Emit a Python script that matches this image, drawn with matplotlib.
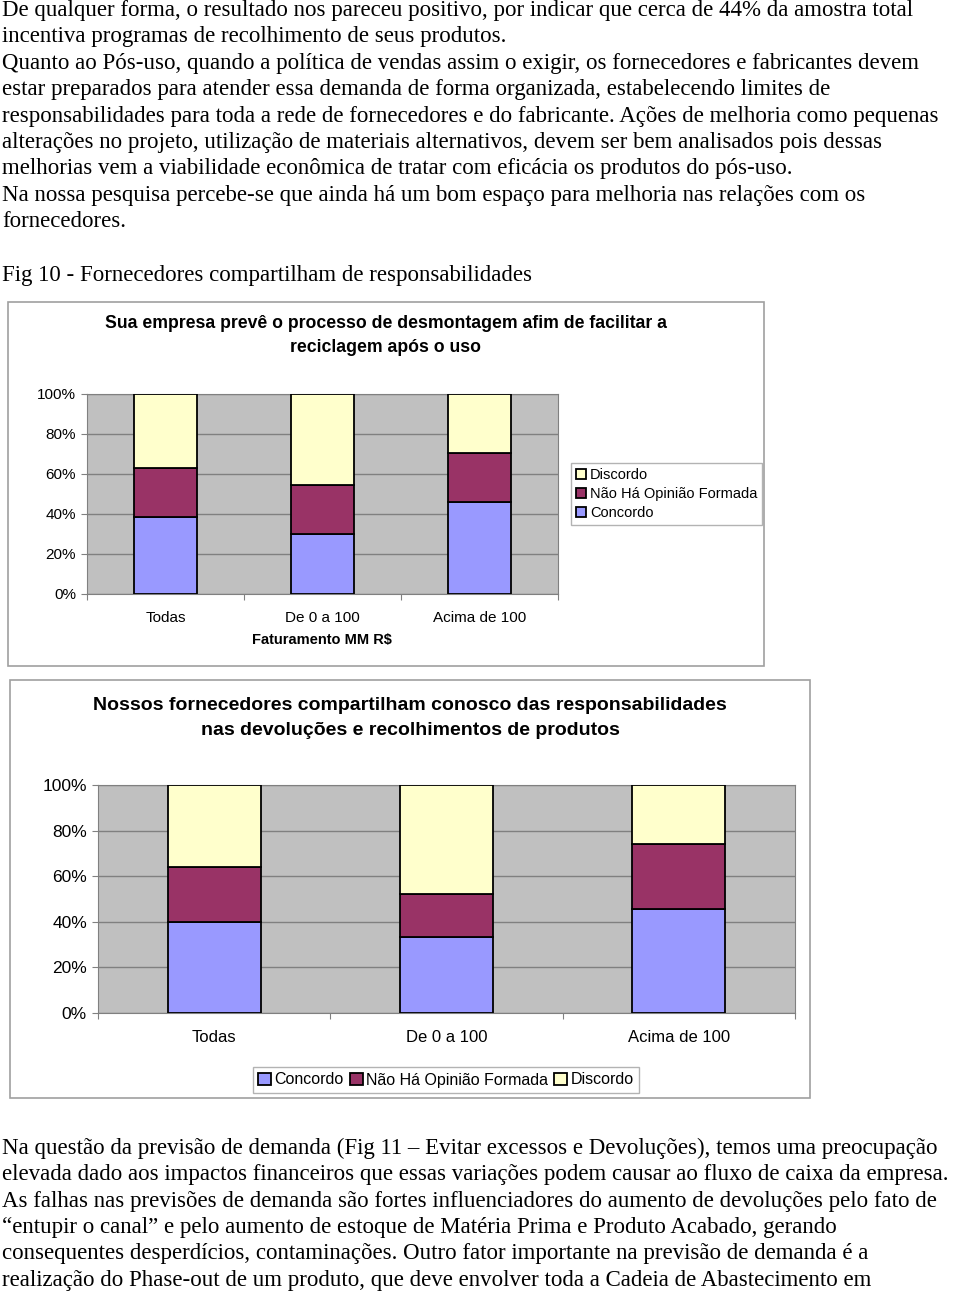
import numpy as np
import matplotlib.pyplot as plt
from matplotlib.patches import Rectangle
from matplotlib.ticker import PercentFormatter

W, H = 960, 1294

# data (percent)
categorias = ['Todas', 'De 0 a 100', 'Acima de 100']
series = ['Concordo', 'Não Há Opinião Formada', 'Discordo']
cores = ['#9999FF', '#993366', '#FFFFCC']

fig1_concordo = [38.5, 30.2, 46.0]
fig1_nao_ha = [24.5, 24.5, 24.3]
fig1_discordo = [37.0, 45.3, 29.7]

fig2_concordo = [40.0, 33.3, 45.8]
fig2_nao_ha = [24.0, 19.0, 28.2]
fig2_discordo = [36.0, 47.7, 26.0]

texto_topo = [
    "De qualquer forma, o resultado nos pareceu positivo, por indicar que cerca de 44% da amostra total",
    "incentiva programas de recolhimento de seus produtos.",
    "Quanto ao Pós-uso, quando a política de vendas assim o exigir, os fornecedores e fabricantes devem",
    "estar preparados para atender essa demanda de forma organizada, estabelecendo limites de",
    "responsabilidades para toda a rede de fornecedores e do fabricante. Ações de melhoria como pequenas",
    "alterações no projeto, utilização de materiais alternativos, devem ser bem analisados pois dessas",
    "melhorias vem a viabilidade econômica de tratar com eficácia os produtos do pós-uso.",
    "Na nossa pesquisa percebe-se que ainda há um bom espaço para melhoria nas relações com os",
    "fornecedores.",
]
texto_fim = [
    "Na questão da previsão de demanda (Fig 11 \u2013 Evitar excessos e Devoluções), temos uma preocupação",
    "elevada dado aos impactos financeiros que essas variações podem causar ao fluxo de caixa da empresa.",
    "As falhas nas previsões de demanda são fortes influenciadores do aumento de devoluções pelo fato de",
    "\u201centupir o canal\u201d e pelo aumento de estoque de Matéria Prima e Produto Acabado, gerando",
    "consequentes desperdícios, contaminações. Outro fator importante na previsão de demanda é a",
    "realização do Phase-out de um produto, que deve envolver toda a Cadeia de Abastecimento em",
]

plt.rcParams['font.family'] = ['Liberation Sans', 'DejaVu Sans']
fig = plt.figure(figsize=(W / 100, H / 100), dpi=100)


def fx(x):
    return x / W


def fy(y):
    return 1 - y / H


def px_axes(x0, y0, x1, y1):
    return fig.add_axes([fx(x0), fy(y1), (x1 - x0) / W, (y1 - y0) / H])


def texto(x, y, s, **kw):
    fig.text(fx(x), fy(y), s, va='center', **kw)


def caixa(x0, y0, x1, y1):
    fig.patches.append(Rectangle((fx(x0), fy(y1)), (x1 - x0) / W, (y1 - y0) / H,
                                 transform=fig.transFigure, fill=False,
                                 edgecolor='#A0A0A0', lw=1.2))


def grafico(ax, valores, fs, fs_y):
    x = np.arange(len(categorias))
    base = np.zeros(len(categorias))
    barras = []
    for nome, vals, cor in zip(series, valores, cores):
        b = ax.bar(x, vals, 0.4, bottom=base, color=cor, edgecolor='black',
                   linewidth=1.3, label=nome, zorder=3)
        barras.append(b)
        base += np.array(vals)
    ax.set_facecolor('#C0C0C0')
    ax.set_xlim(-0.5, len(categorias) - 0.5)
    ax.set_ylim(0, 100)
    ax.set_yticks(np.arange(0, 101, 20))
    ax.yaxis.set_major_formatter(PercentFormatter(decimals=0))
    ax.grid(axis='y', color='#808080', lw=1, zorder=1)
    ax.set_xticks(np.arange(-0.5, len(categorias), 1.0))
    ax.set_xticklabels([])
    ax.set_xticks(x, minor=True)
    ax.set_xticklabels(categorias, minor=True, fontsize=fs)
    ax.tick_params(axis='x', which='minor', length=0, pad=12)
    ax.tick_params(axis='x', which='major', length=4, color='#808080')
    ax.tick_params(axis='y', length=4, color='#808080', labelsize=fs_y, pad=4)
    for s in ['top', 'right', 'left', 'bottom']:
        ax.spines[s].set_color('#808080')
    return barras


# corpo do texto
fs_texto = 16.5
for i, linha in enumerate(texto_topo):
    texto(2, 10.5 + i * 26.4, linha, fontsize=fs_texto, family='Liberation Serif')
texto(2, 275, "Fig 10 - Fornecedores compartilham de responsabilidades",
      fontsize=fs_texto, family='Liberation Serif')
for i, linha in enumerate(texto_fim):
    texto(2, 1148 + i * 26.5, linha, fontsize=fs_texto, family='Liberation Serif')

# grafico 1
caixa(8, 302, 764, 666)
ax1 = px_axes(87, 394, 558, 594)
b1 = grafico(ax1, [fig1_concordo, fig1_nao_ha, fig1_discordo], 11, 11)
texto(386, 324, "Sua empresa prevê o processo de desmontagem afim de facilitar a",
      fontsize=12.7, fontweight='bold', ha='center')
texto(386, 347, "reciclagem após o uso", fontsize=12.7, fontweight='bold', ha='center')
texto(322, 640, "Faturamento MM R$", fontsize=10.5, fontweight='bold', ha='center')
leg1 = ax1.legend(b1[::-1], series[::-1], loc='center left',
                  bbox_to_anchor=(fx(571), fy(494)), bbox_transform=fig.transFigure,
                  fontsize=10.5, frameon=True, fancybox=False, edgecolor='#A0A0A0',
                  handlelength=0.7, handleheight=0.7, handletextpad=0.25,
                  borderpad=0.35, labelspacing=0.35, borderaxespad=0)

# grafico 2
caixa(10, 680, 810, 1098)
ax2 = px_axes(98, 785, 795, 1013)
b2 = grafico(ax2, [fig2_concordo, fig2_nao_ha, fig2_discordo], 12, 12.5)
texto(410, 706, "Nossos fornecedores compartilham conosco das responsabilidades",
      fontsize=14, fontweight='bold', ha='center')
texto(410, 731, "nas devoluções e recolhimentos de produtos",
      fontsize=14, fontweight='bold', ha='center')
leg2 = ax2.legend(b2, series, loc='center', ncol=3,
                  bbox_to_anchor=(fx(446), fy(1080)), bbox_transform=fig.transFigure,
                  fontsize=11.5, frameon=True, fancybox=False, edgecolor='#A0A0A0',
                  handlelength=0.8, handleheight=0.8, handletextpad=0.2,
                  columnspacing=0.4, borderpad=0.35, borderaxespad=0)

fig.savefig('out.png', dpi=100, facecolor='white')
